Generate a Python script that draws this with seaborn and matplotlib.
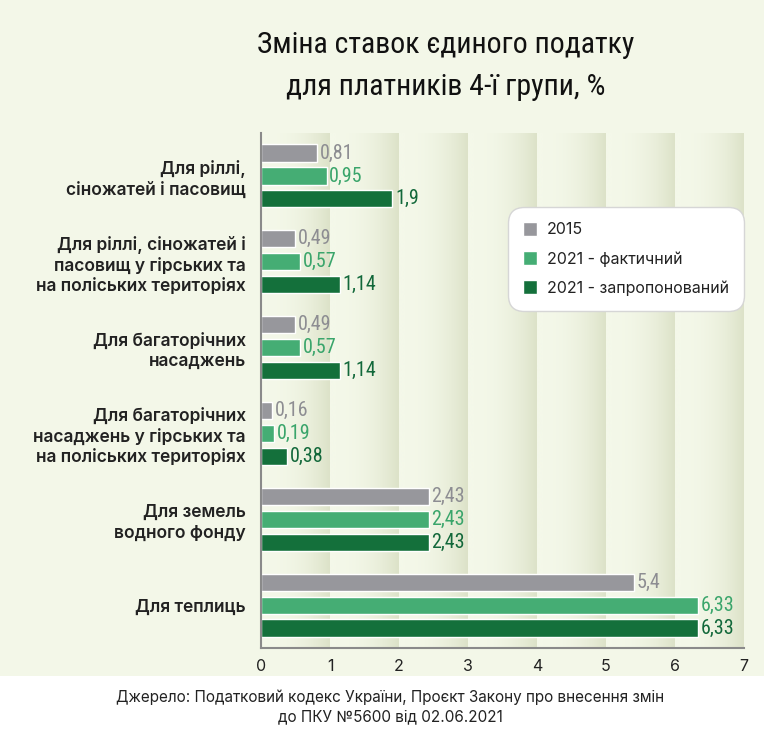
import numpy as np
import pandas as pd
import matplotlib
matplotlib.use('Agg')
import matplotlib.pyplot as plt
import seaborn as sns
from matplotlib import font_manager as fm
from matplotlib.patches import Rectangle

categories = [
    'Для ріллі,\nсіножатей і пасовищ',
    'Для ріллі, сіножатей і\nпасовищ у гірських та\nна поліських територіях',
    'Для багаторічних\nнасаджень',
    'Для багаторічних\nнасаджень у гірських та\nна поліських територіях',
    'Для земель\nводного фонду',
    'Для теплиць',
]
series_names = ['2015', '2021 - фактичний', '2021 - запропонований']
rates_2015 = [0.81, 0.49, 0.49, 0.16, 2.43, 5.4]
rates_2021_actual = [0.95, 0.57, 0.57, 0.19, 2.43, 6.33]
rates_2021_proposed = [1.9, 1.14, 1.14, 0.38, 2.43, 6.33]
x_ticks = [0, 1, 2, 3, 4, 5, 6, 7]

bar_colors = ['#97979c', '#45ad74', '#14703b']
label_colors = ['#8d8d92', '#3aa56b', '#12683a']
bg_color = '#f3f7e8'

df = pd.DataFrame({
    'category': categories * 3,
    'series': [s for s in series_names for _ in categories],
    'value': rates_2015 + rates_2021_actual + rates_2021_proposed,
})

sns.set_theme(style='white')

# pick a narrow font for title and value labels if one is installed
names = {f.name for f in fm.fontManager.ttflist}
narrow = next((n for n in ['Roboto Condensed', 'Liberation Sans Narrow',
                           'Open Sans Condensed', 'DejaVu Sans Condensed']
               if n in names), None)
if narrow:
    narrow_kw = dict(family=[narrow, 'DejaVu Sans'])
else:
    narrow_kw = dict(family=['DejaVu Sans'], stretch='condensed')
plt.rcParams['font.family'] = ['Inter', 'DejaVu Sans']

fig = plt.figure(figsize=(7.64, 7.33), dpi=100, facecolor=bg_color)
fig.patches.append(Rectangle((0, 0), 1, 57 / 733, transform=fig.transFigure,
                             facecolor='white', edgecolor='none', zorder=0))
ax = fig.add_axes([261 / 764, 85 / 733, 483 / 764, 515 / 733])
ax.set_facecolor('none')

# background bands: each unit darkens towards its right edge
band_cmap = matplotlib.colors.LinearSegmentedColormap.from_list(
    'band', ['#f4f8e9', '#dce2c8'])
grad = np.linspace(0, 1, 200) ** 2.4
for i in x_ticks[:-1]:
    ax.imshow(grad[np.newaxis, :], extent=(i, i + 1, 5.5, -0.5), aspect='auto',
              cmap=band_cmap, zorder=0, interpolation='bilinear')

sns.barplot(data=df, y='category', x='value', hue='series', orient='h',
            palette=bar_colors, saturation=1, width=0.8, gap=0.25,
            ax=ax, zorder=2)

for cont, col in zip(ax.containers, label_colors):
    labels = [f'{v:g}'.replace('.', ',') for v in cont.datavalues]
    ax.bar_label(cont, labels=labels, padding=2, color=col, fontsize=14.5,
                 **narrow_kw)

ax.set_xlim(0, 7)
ax.set_ylim(5.5, -0.5)
ax.set_xticks(x_ticks)
ax.set_xlabel('')
ax.set_ylabel('')
ax.tick_params(axis='x', length=0, pad=8, labelsize=11.5, colors='#222222')
ax.tick_params(axis='y', length=0, pad=11, labelsize=12.5, colors='#222222')
for lab in ax.get_yticklabels():
    lab.set_fontweight('semibold')
    lab.set_linespacing(1.25)
    lab.set_horizontalalignment('right')
for side in ['top', 'right']:
    ax.spines[side].set_visible(False)
for side in ['left', 'bottom']:
    ax.spines[side].set_color('#8a8a8a')
    ax.spines[side].set_linewidth(1.5)
    ax.spines[side].set_zorder(3)

handles, labels = ax.get_legend_handles_labels()
leg = ax.legend(handles, labels, loc='upper left', bbox_to_anchor=(0.511, 0.856),
                frameon=True, fontsize=11.5, handlelength=0.9, handleheight=0.9,
                labelspacing=0.85, borderpad=0.95, handletextpad=0.6,
                borderaxespad=0, framealpha=1)
frame = leg.get_frame()
frame.set_facecolor('white')
frame.set_edgecolor('#d6d6d6')
frame.set_boxstyle('round', pad=0, rounding_size=1.0)
leg.set_zorder(5)
for t in leg.get_texts():
    t.set_color('#222222')

fig.text(446 / 764, 1 - 66 / 733,
         'Зміна ставок єдиного податку\nдля платників 4-ї групи, %',
         ha='center', va='center', fontsize=21.5, linespacing=1.65,
         color='#111111', **narrow_kw)

fig.text(390 / 764, 26 / 733,
         'Джерело: Податковий кодекс України, Проєкт Закону про внесення змін\n'
         'до ПКУ №5600 від 02.06.2021',
         ha='center', va='center', fontsize=11, linespacing=1.35, color='#222222')

fig.savefig('out.png', dpi=100, facecolor=fig.get_facecolor())
